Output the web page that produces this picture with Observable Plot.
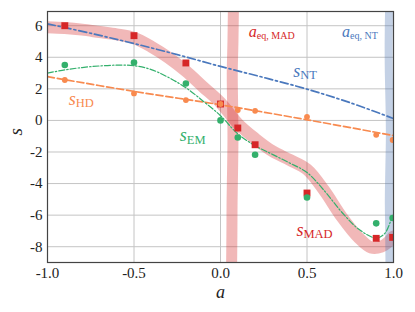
<!DOCTYPE html>
<html>
<head>
<meta charset="utf-8">
<script src="https://cdn.jsdelivr.net/npm/d3@7"></script>
<script src="https://cdn.jsdelivr.net/npm/@observablehq/plot@0.6"></script>
<style>
  html, body { margin: 0; padding: 0; background: #fff; }
  #chart svg, #chart svg text { font-family: "Liberation Serif", serif !important; }
</style>
</head>
<body>
<div id="chart"></div>
<script>
// ---- data ----
const xTicks = [-1, -0.5, 0, 0.5, 1];
const yTicks = [-8, -6, -4, -2, 0, 2, 4, 6];

// s_MAD model curve (thick band)
const madCurveA = [-1, -0.9, -0.8, -0.7, -0.6, -0.5, -0.4, -0.3, -0.2, -0.1, 0, 0.1, 0.2, 0.3, 0.4, 0.5, 0.6, 0.7, 0.8, 0.87, 0.93, 0.97, 1.0];
const madCurveS = [5.9, 5.85, 5.75, 5.6, 5.45, 5.22, 4.67, 3.97, 3.12, 2.12, 1.12, -0.2, -1.15, -1.95, -2.5, -3.1, -4.45, -6.1, -7.45, -8.05, -8.0, -7.7, -7.35];

// s_EM model curve
const emCurveA = [-1, -0.9, -0.8, -0.7, -0.6, -0.5, -0.4, -0.3, -0.2, -0.1, 0, 0.1, 0.2, 0.3, 0.4, 0.5, 0.6, 0.7, 0.8, 0.9, 0.95, 0.99, 1.0];
const emCurveS = [3.0, 3.2, 3.35, 3.45, 3.5, 3.47, 3.22, 2.72, 2.07, 1.22, 0.3, -0.85, -1.6, -2.15, -2.7, -3.3, -4.45, -5.8, -6.9, -7.45, -7.15, -6.2, -6.0];

// s_NT model curve
const ntCurveA = [-1, -0.75, -0.5, -0.25, 0, 0.25, 0.5, 0.75, 1];
const ntCurveS = [6.12, 5.52, 4.87, 4.17, 3.42, 2.72, 1.98, 1.12, 0.12];

// s_HD model curve
const hdCurveA = [-1, -0.5, 0, 0.5, 1];
const hdCurveS = [2.77, 1.84, 0.99, 0.04, -0.96];

// a_eq,MAD and a_eq,NT vertical bands (a as function of s)
const eqBandS = [7.5, 5, 3, 1, -1, -3, -5, -7, -9.5];
const eqMadA = [0.075, 0.072, 0.068, 0.07, 0.072, 0.07, 0.067, 0.066, 0.064];
const eqNtA = [0.975, 0.972, 0.973, 0.977, 0.979, 0.976, 0.973, 0.975, 0.977];

// simulation points
const pointA = [-0.9, -0.5, -0.2, 0, 0.1, 0.2, 0.5, 0.9, 0.995];
const madPts = [6.0, 5.37, 3.64, 1.04, -0.48, -1.54, -4.6, -7.47, -7.41];
const emPts = [3.51, 3.67, 2.34, 0.0, -1.08, -2.17, -4.88, -6.52, -6.18];
const hdPts = [2.56, 1.71, 1.29, 1.04, 0.66, 0.61, 0.23, -0.91, -1.24];

// labels
const labelMain = ["a", "a", "s", "s", "s", "s"];
const labelSub = ["eq, MAD", "eq, NT", "NT", "HD", "EM", "MAD"];
const labelA = [0.164, 0.703, 0.42, -0.877, -0.235, 0.439];
const labelS = [5.3, 5.3, 2.77, 0.98, -1.33, -7.3];
const labelKind = ["eq", "eq", "s", "s", "s", "s"];

// ---- colours ----
const RED = "#d62728", BLUE = "#4a78bd", ORANGE = "#f88a4f", GREEN = "#33b06c";
const labelColor = [RED, BLUE, BLUE, ORANGE, GREEN, RED];

// ---- tables ----
const zip = (a, s) => a.map((v, i) => ({a: v, s: s[i]}));
const madCurve = zip(madCurveA, madCurveS);
const emCurve = zip(emCurveA, emCurveS);
const ntCurve = zip(ntCurveA, ntCurveS);
const hdCurve = zip(hdCurveA, hdCurveS);
const eqMad = eqBandS.map((s, i) => ({a: eqMadA[i], s}));
const eqNt = eqBandS.map((s, i) => ({a: eqNtA[i], s}));
const madP = zip(pointA, madPts);
const emP = zip(pointA, emPts);
const hdP = zip(pointA, hdPts);
const labels = labelMain.map((m, i) => ({main: m, sub: labelSub[i], a: labelA[i], s: labelS[i], kind: labelKind[i], color: labelColor[i]}));
const eqLabels = labels.filter(d => d.kind === "eq");
const sLabels = labels.filter(d => d.kind === "s");

const SERIF = "'Liberation Serif', serif";

const chart = Plot.plot({
  width: 415,
  height: 312,
  marginTop: 11,
  marginBottom: 50,
  marginLeft: 47,
  marginRight: 22,
  style: {fontFamily: SERIF, fontSize: "15px", background: "#fff", color: "#222"},
  x: {domain: [-1, 1], ticks: xTicks, tickFormat: d => d.toFixed(1), tickSize: 0, tickPadding: 5, label: null},
  y: {domain: [-9, 6.9], ticks: yTicks, tickFormat: d => String(d), tickSize: 0, tickPadding: 5, label: null},
  marks: [
    Plot.gridX(xTicks, {stroke: "#c4c4c4", strokeOpacity: 1, strokeWidth: 1}),
    Plot.gridY(yTicks, {stroke: "#c4c4c4", strokeOpacity: 1, strokeWidth: 1}),
    // bands
    Plot.line(madCurve, {x: "a", y: "s", curve: "catmull-rom", stroke: RED, strokeOpacity: 0.33, strokeWidth: 12, clip: true}),
    Plot.line(eqMad, {x: "a", y: "s", curve: "catmull-rom", stroke: RED, strokeOpacity: 0.33, strokeWidth: 11, clip: true}),
    Plot.line(eqNt, {x: "a", y: "s", curve: "catmull-rom", stroke: "#4c72b0", strokeOpacity: 0.33, strokeWidth: 8, clip: true}),
    // model lines
    Plot.line(ntCurve, {x: "a", y: "s", curve: "catmull-rom", stroke: BLUE, strokeWidth: 1.7, strokeDasharray: "8,3,2,3", clip: true}),
    Plot.line(hdCurve, {x: "a", y: "s", curve: "catmull-rom", stroke: ORANGE, strokeWidth: 1.7, strokeDasharray: "7,3", clip: true}),
    Plot.line(emCurve, {x: "a", y: "s", curve: "catmull-rom", stroke: GREEN, strokeWidth: 1.2, strokeDasharray: "6,2,1.5,2", clip: true}),
    // points
    Plot.dot(madP, {x: "a", y: "s", symbol: "square", r: 3.9, fill: RED, stroke: "none", clip: true}),
    Plot.dot(emP, {x: "a", y: "s", r: 3.3, fill: GREEN, stroke: "none", clip: true}),
    Plot.dot(hdP, {x: "a", y: "s", r: 2.9, fill: ORANGE, stroke: "none", clip: true}),
    // series labels
    Plot.text(sLabels, {x: "a", y: "s", text: "main", fill: "color", fontFamily: SERIF, fontStyle: "italic", fontSize: 18, textAnchor: "start", lineAnchor: "bottom"}),
    Plot.text(sLabels, {x: "a", y: "s", text: "sub", fill: "color", fontFamily: SERIF, fontSize: 12.5, textAnchor: "start", lineAnchor: "bottom", dx: 7, dy: 2.5}),
    Plot.text(eqLabels, {x: "a", y: "s", text: "main", fill: "color", fontFamily: SERIF, fontStyle: "italic", fontSize: 16, textAnchor: "start", lineAnchor: "bottom"}),
    Plot.text(eqLabels, {x: "a", y: "s", text: "sub", fill: "color", fontFamily: SERIF, fontSize: 10, textAnchor: "start", lineAnchor: "bottom", dx: 8, dy: 2}),
    // axis titles
    Plot.text(["a"], {frameAnchor: "bottom", text: d => d, fontFamily: SERIF, fontStyle: "italic", fontSize: 18, lineAnchor: "bottom", dy: 35, fill: "#222"}),
    Plot.text(["s"], {frameAnchor: "left", text: d => d, fontFamily: SERIF, fontStyle: "italic", fontSize: 19, lineAnchor: "bottom", rotate: -90, dx: -26, dy: -1.5, fill: "#222"}),
    Plot.frame({stroke: "#444", strokeWidth: 1.2})
  ]
});
chart.setAttribute("font-family", SERIF);
document.getElementById("chart").appendChild(chart);
</script>
</body>
</html>
